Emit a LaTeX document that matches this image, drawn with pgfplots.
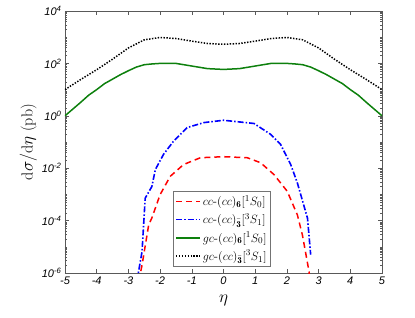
\documentclass[border=0pt]{standalone}
\usepackage{fontspec}
\usepackage{pgfplots}
\pgfplotsset{compat=1.18}
\newfontfamily\tickfont{Liberation Sans}
\definecolor{mgreen}{rgb}{0.05,0.5,0.05}
\tikzset{
  sred/.style={draw=red, color=red, line width=1.5pt, dash pattern=on 6pt off 4pt},
  sblue/.style={draw=blue, color=blue, line width=1.6pt, dash pattern=on 6pt off 2pt on 1.5pt off 2pt},
  sgreen/.style={draw=mgreen, color=mgreen, line width=1.5pt, solid},
  sblack/.style={draw=black, color=black, line width=1.5pt, dash pattern=on 1.4pt off 1.5pt},
}
\begin{document}
\begin{tikzpicture}
\path[use as bounding box] (-65pt,-44pt) rectangle (350pt,273pt);
\begin{axis}[
  scale only axis,
  width=317pt, height=262pt,
  ymode=log,
  xmin=-5, xmax=5, ymin=1e-6, ymax=1e4,
  xtick={-5,-4,...,5},
  ytick={1e-6,1e-4,1e-2,1,1e2,1e4},
  yticklabels={10\textsuperscript{-6},10\textsuperscript{-4},10\textsuperscript{-2},10\textsuperscript{0},10\textsuperscript{2},10\textsuperscript{4}},
  minor ytick={2e-6,3e-6,4e-6,5e-6,6e-6,7e-6,8e-6,9e-6,1e-5,2e-5,3e-5,4e-5,5e-5,6e-5,7e-5,8e-5,9e-5,
    2e-4,3e-4,4e-4,5e-4,6e-4,7e-4,8e-4,9e-4,1e-3,2e-3,3e-3,4e-3,5e-3,6e-3,7e-3,8e-3,9e-3,
    2e-2,3e-2,4e-2,5e-2,6e-2,7e-2,8e-2,9e-2,1e-1,2e-1,3e-1,4e-1,5e-1,6e-1,7e-1,8e-1,9e-1,
    2,3,4,5,6,7,8,9,10,20,30,40,50,60,70,80,90,
    200,300,400,500,600,700,800,900,1000,2000,3000,4000,5000,6000,7000,8000,9000},
  tick align=inside,
  major tick length=4pt,
  minor tick length=2pt,
  axis line style={black!65},
  every tick/.style={black!65},
  /pgf/number format/assume math mode=true,
  tick label style={font=\tickfont\itshape\fontsize{11}{12}\selectfont},
  xlabel={$\eta$},
  ylabel={$\mathrm{d}\sigma/\mathrm{d}\eta$ (pb)},
  label style={font=\fontsize{16}{18}\selectfont},
  xlabel style={yshift=-4pt},
  ylabel style={yshift=-2pt},
  legend style={at={(0.495,0.027)}, anchor=south, draw=black!55, fill=white,
    font=\fontsize{13}{15}\selectfont, row sep=2.5pt, inner sep=2pt},
  legend cell align=left,
]
\addplot[sred, legend image code/.code={\draw[sred] (0pt,0pt) -- (24pt,0pt);}] coordinates {
(-2.67,5e-7) (-2.57,2e-6) (-2.36,6.9e-5) (-2.26,1.26e-4) (-2.0,9.8e-4) (-1.68,4.9e-3)
(-1.26,0.0138) (-0.73,0.0251) (0,0.0275) (0.75,0.0251) (1.17,0.0162) (1.59,5.75e-3)
(2.01,1.32e-3) (2.33,1.66e-4) (2.49,2.8e-5) (2.70,1.1e-6) (2.72,5e-7)};
\addlegendentry{$cc$-$(cc)_{\mathbf{6}}[^1S_0]$}
\addplot[sblue, legend image code/.code={\draw[sblue] (0pt,0pt) -- (24pt,0pt);}] coordinates {
(-2.73,5e-7) (-2.57,6.5e-6) (-2.47,7.2e-4) (-2.26,2.0e-3) (-2.15,8.9e-3) (-1.89,3.4e-2)
(-1.57,0.11) (-1.15,0.355) (-0.62,0.55) (0,0.676) (0.96,0.51) (1.49,0.195) (1.80,0.081)
(2.12,0.0138) (2.33,2.75e-3) (2.65,1.23e-4) (2.75,5e-6)};
\addlegendentry{$cc$-$(cc)_{\bar{\mathbf{3}}}[^3S_1]$}
\addplot[sgreen, legend image code/.code={\draw[sgreen] (0pt,0pt) -- (24pt,0pt);}] coordinates {
(-5,1.0) (-4.75,1.82) (-4.5,3.31) (-4.25,6.17) (-4,10.0) (-3.75,17.0) (-3.5,25.1)
(-3.25,37.2) (-3,52.5) (-2.75,72.4) (-2.5,89.1) (-2.25,95.5) (-2,100) (-1.5,100)
(-1,79.4) (-0.5,63.1) (0,58.9) (0.5,63.1) (1,79.4) (1.5,100) (2,100) (2.25,95.5)
(2.5,89.1) (2.75,72.4) (3,52.5) (3.25,37.2) (3.5,25.1) (3.75,17.0) (4,10.0)
(4.25,6.17) (4.5,3.31) (4.75,1.82) (5,1.0)};
\addlegendentry{$gc$-$(cc)_{\mathbf{6}}[^1S_0]$}
\addplot[sblack, legend image code/.code={\draw[sblack] (0pt,0pt) -- (24pt,0pt);}] coordinates {
(-5,10) (-4.5,24.5) (-4,57.5) (-3.5,145) (-3,389) (-2.5,794) (-2,977) (-1.5,891)
(-1,708) (-0.5,575) (0,537) (0.5,575) (1,708) (1.5,891) (2,977) (2.5,794) (3,389)
(3.5,145) (4,57.5) (4.5,24.5) (5,10)};
\addlegendentry{$gc$-$(cc)_{\bar{\mathbf{3}}}[^3S_1]$}
\end{axis}
\end{tikzpicture}
\end{document}
